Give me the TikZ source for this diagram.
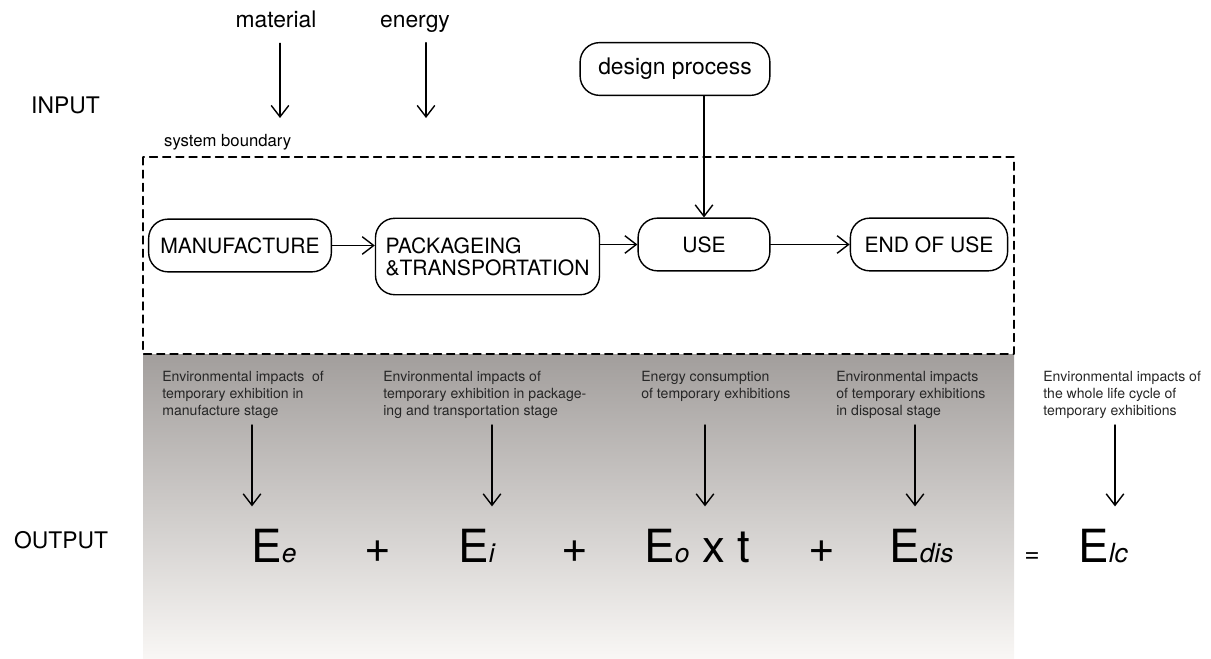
\documentclass[tikz,border=0pt]{standalone}
\usepackage{fontspec}
\setmainfont{TeX Gyre Heros}
\usetikzlibrary{arrows.meta}
\definecolor{gtop}{RGB}{162,158,156}
\definecolor{gbot}{RGB}{249,247,245}
\begin{document}
\begin{tikzpicture}[x=0.02cm,y=-0.02cm,>={Straight Barb[length=6.5pt,width=10pt]},line join=round,line cap=round,
        stagebox/.style={draw,line width=0.8pt,rounded corners=11pt,minimum height=30pt,font=\fontsize{12}{12.5}\selectfont},
        desc/.style={anchor=north west,inner sep=0pt,align=left,text=black!85,font=\fontsize{8}{9.6}\selectfont},
        frm/.style={anchor=base west,inner sep=0pt,font=\fontsize{26}{26}\selectfont},
        lbl/.style={font=\fontsize{13}{13}\selectfont},
        arr/.style={->,line width=0.8pt}]
                \def\sbs#1{{\fontsize{15}{15}\selectfont\itshape #1}}
                \useasboundingbox (0,0) rectangle (1211,659);
                % output band and system boundary
                \shade[top color=gtop,bottom color=gbot] (143,354) rectangle (1014,659);
                \draw[dash pattern=on 4.5pt off 3pt,line width=0.75pt] (143,157) rectangle (1014,354);
                \node[lbl,anchor=west] (inp) at (25,105) {INPUT};
                \node[lbl,anchor=west] (outp) at (8,540) {OUTPUT};
                \node[anchor=west,font=\fontsize{9.5}{9.5}\selectfont] (sys) at (158,142) {system boundary};
                % inputs
                \node[lbl,anchor=base] (mat) at (276,28) {material};
                \node[lbl,anchor=base] (ener) at (415,28) {energy};
                \coordinate (matin) at (280,118);
                \coordinate (enin) at (426,118);
                \draw[arr,shorten <=5pt] (mat.south -| matin) -- (matin);
                \draw[arr,shorten <=2pt] (ener.south -| enin) -- (enin);
                \node[stagebox,minimum width=108pt,font=\fontsize{13}{13}\selectfont] (dsg) at (675,69) {design process};
                % life cycle stages
                \node[stagebox,minimum width=104pt] (manu) at (240,245.5) {MANUFACTURE};
                \node[stagebox,minimum width=127.5pt,minimum height=43.5pt,align=left] (pack) at (487.5,256.5) {PACKAGEING\\\&TRANSPORTATION};
                \node[stagebox,minimum width=75pt] (use) at (704,244.5) {USE};
                \node[stagebox,minimum width=89.5pt] (eou) at (929,244.5) {END OF USE};
                \draw[arr] (manu.east) -- (manu.east -| pack.west);
                \draw[arr] (use.west -| pack.east) -- (use.west);
                \draw[arr] (use) -- (eou);
                \draw[arr] (dsg.south -| use.north) -- (use.north);
                % outputs
                \node[desc] (d1) at (162,371) {Environmental impacts\ \ of\\temporary exhibition in\\manufacture stage};
                \node[desc] (d2) at (383,371) {Environmental impacts of\\temporary exhibition in package-\\ing and transportation stage};
                \node[desc] (d3) at (641,371) {Energy consumption\\of temporary exhibitions};
                \node[desc] (d4) at (836,371) {Environmental impacts\\of temporary exhibitions\\in disposal stage};
                \node[desc] (d5) at (1043,371) {Environmental impacts of\\the whole life cycle of\\temporary exhibitions};
                \node[frm] (ee) at (251,562) {E\sbs{e}};
                \node[frm,anchor=base] (p1) at (378,562) {+};
                \node[frm] (ei) at (458,562) {E\sbs{i}};
                \node[frm,anchor=base] (p2) at (575,562) {+};
                \node[frm] (eo) at (644,562) {E\sbs{o} x t};
                \node[frm,anchor=base] (p3) at (822,562) {+};
                \node[frm] (edis) at (889,562) {E\sbs{dis}};
                \node[frm,anchor=base,font=\fontsize{15}{15}\selectfont] (eq) at (1032,562) {=};
                \node[frm] (elc) at (1078,562) {E\sbs{lc}};
                \foreach \i/\x/\n in {1/252/ee,2/492/ei,3/705/eo,4/915/edis,5/1115/elc} {
                        \coordinate (a\i) at (\x,425);
                        \draw[arr,shorten >=12.5pt] (a\i) -- (a\i |- \n.north);
                }
\end{tikzpicture}
\end{document}
